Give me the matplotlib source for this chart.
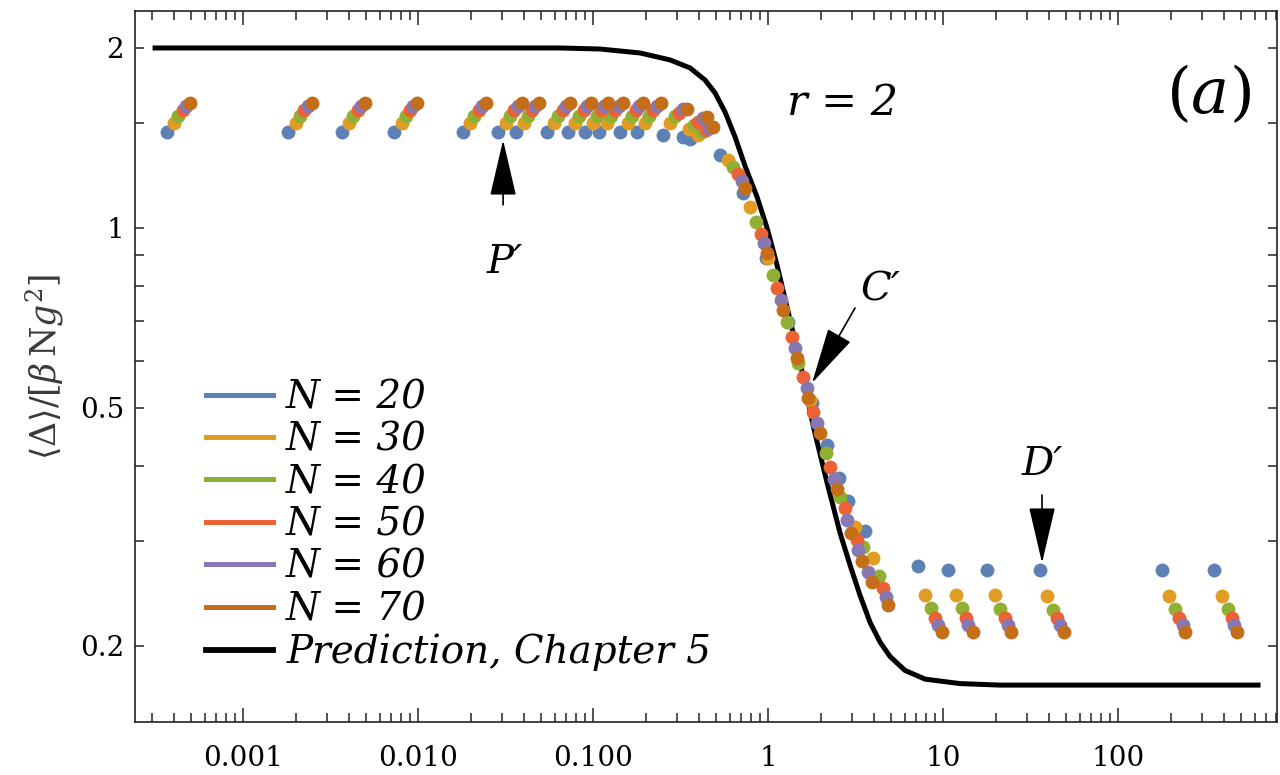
#! /usr/bin/env python3
# -*- coding:utf-8 -*-

"""
Gap promedio <Delta>/[beta N g^2] contra el acoplamiento para r = 2,
varios tamaños N y la predicción del capítulo 5.
"""

import matplotlib.pyplot as plt
from matplotlib.lines import Line2D
from matplotlib.ticker import FixedLocator, FixedFormatter, LogLocator, NullFormatter

plt.rcParams['mathtext.fontset'] = 'dejavuserif'

colores = ['#5e81b5', '#e19c24', '#8fb032', '#eb6235', '#8778b3', '#c56e1a']
etiquetas = ['N = 20', 'N = 30', 'N = 40', 'N = 50', 'N = 60', 'N = 70']

x_n20 = [3.65e-4, 1.807e-3, 3.65e-3, 7.26e-3, 1.794e-2, 2.865e-2, 3.616e-2, 5.416e-2,
         7.139e-2, 8.966e-2, 0.1082, 0.1421, 0.1784, 0.2492, 0.3242, 0.3569,
         0.5297, 0.7140, 0.9702, 1.2963, 1.7771, 2.1566, 2.5449, 2.8653, 3.5690,
         7.141, 10.68, 17.84, 35.69, 177.0, 352.3]
y_n20 = [1.446, 1.446, 1.446, 1.446, 1.446, 1.446, 1.446, 1.446,
         1.446, 1.446, 1.446, 1.446, 1.446, 1.431, 1.421, 1.407,
         1.3245, 1.1444, 0.8909, 0.6965, 0.5097, 0.4337, 0.3815, 0.3499, 0.3114,
         0.2722, 0.2681, 0.2681, 0.2681, 0.2681, 0.2681]

x_n30 = [4.04e-4, 2.00e-3, 4.04e-3, 8.03e-3, 1.984e-2, 3.169e-2, 4.000e-2, 5.990e-2,
         7.896e-2, 9.916e-2, 0.1197, 0.1572, 0.1973, 0.2744, 0.3536, 0.3966,
         0.5906, 0.7858, 1.000, 1.7310, 3.1290, 3.981,
         7.861, 11.82, 19.74, 39.29, 195.6, 389.8]
y_n30 = [1.500, 1.500, 1.500, 1.500, 1.500, 1.500, 1.500, 1.500,
         1.500, 1.500, 1.500, 1.500, 1.500, 1.500, 1.4625, 1.431,
         1.2994, 1.0822, 0.8899, 0.5157, 0.3162, 0.2804,
         0.2433, 0.2433, 0.2433, 0.2424, 0.2424, 0.2424]

x_n40 = [4.26e-4, 2.107e-3, 4.26e-3, 8.47e-3, 2.092e-2, 3.341e-2, 4.216e-2, 6.315e-2,
         8.324e-2, 0.1045, 0.1262, 0.1657, 0.2080, 0.2930, 0.3762, 0.4180,
         0.6310, 0.8507, 1.0680, 1.2843, 1.4839, 2.1369, 2.5685, 3.4900, 4.3087,
         8.472, 12.74, 21.09, 42.19, 210.9, 425.3]
y_n40 = [1.541, 1.541, 1.541, 1.541, 1.541, 1.541, 1.541, 1.541,
         1.541, 1.541, 1.541, 1.541, 1.541, 1.539, 1.487, 1.447,
         1.2648, 1.0234, 0.8347, 0.6965, 0.5946, 0.4205, 0.3550, 0.2929, 0.2619,
         0.2315, 0.2315, 0.2306, 0.2297, 0.2306, 0.2306]

x_n50 = [4.50e-4, 2.230e-3, 4.50e-3, 8.96e-3, 2.214e-2, 3.535e-2, 4.462e-2, 6.683e-2,
         8.810e-2, 0.1106, 0.1335, 0.1754, 0.2201, 0.3100, 0.3981, 0.4406,
         0.6739, 0.9025, 1.1258, 1.3606, 1.5849, 1.8077, 2.2524, 2.7436, 3.2000, 4.5058,
         9.000, 13.48, 22.52, 44.46, 223.2, 444.6]
y_n50 = [1.575, 1.575, 1.575, 1.575, 1.575, 1.575, 1.575, 1.575,
         1.575, 1.575, 1.575, 1.575, 1.575, 1.559, 1.506, 1.459,
         1.2311, 0.9772, 0.7937, 0.6574, 0.5635, 0.4924, 0.3985, 0.3402, 0.3009, 0.2500,
         0.2228, 0.2228, 0.2228, 0.2228, 0.2228, 0.2228]

x_n60 = [4.70e-4, 2.329e-3, 4.70e-3, 9.36e-3, 2.312e-2, 3.693e-2, 4.661e-2, 6.981e-2,
         9.202e-2, 0.1156, 0.1395, 0.1832, 0.2300, 0.3242, 0.4252, 0.4583,
         0.7047, 0.9450, 1.1773, 1.4211, 1.6577, 1.8903, 2.3737, 2.8279, 3.2679, 3.7276, 4.7057,
         9.363, 13.90, 23.33, 46.44, 233.3, 458.4]
y_n60 = [1.600, 1.600, 1.600, 1.600, 1.600, 1.600, 1.600, 1.600,
         1.600, 1.600, 1.600, 1.600, 1.600, 1.579, 1.526, 1.470,
         1.1985, 0.9440, 0.7580, 0.6301, 0.5401, 0.4720, 0.3804, 0.3248, 0.2895, 0.2660, 0.2415,
         0.2169, 0.2169, 0.2169, 0.2169, 0.2169, 0.2169]

x_n70 = [4.96e-4, 2.456e-3, 4.96e-3, 9.87e-3, 2.438e-2, 3.894e-2, 4.914e-2, 7.360e-2,
         9.702e-2, 0.1218, 0.1470, 0.1931, 0.2424, 0.3418, 0.4446, 0.4850,
         0.7358, 0.9830, 1.2180, 1.4645, 1.6927, 1.9824, 2.4596, 2.9566, 3.4178, 3.8974, 4.8503,
         9.792, 14.72, 24.27, 48.95, 240.5, 478.6]
y_n70 = [1.616, 1.616, 1.616, 1.616, 1.616, 1.616, 1.616, 1.616,
         1.616, 1.616, 1.616, 1.616, 1.616, 1.579, 1.535, 1.477,
         1.1665, 0.9084, 0.7294, 0.6062, 0.5197, 0.4542, 0.3661, 0.3090, 0.2775, 0.2559, 0.2342,
         0.2113, 0.2113, 0.2113, 0.2113, 0.2113, 0.2113]

# prediccion analitica (capitulo 5)
pred_x = [3.13e-4, 0.0645, 0.1092, 0.1849, 0.2744, 0.3569, 0.4347, 0.4959, 0.5657,
          0.6453, 0.7358, 0.8618, 0.9831, 1.121, 1.330, 1.518, 1.800, 2.165, 2.569,
          2.930, 3.342, 3.812, 4.347, 4.960, 6.040, 7.861, 12.46, 21.09, 628.5]
pred_y = [2.000, 2.000, 1.992, 1.962, 1.910, 1.852, 1.768, 1.682, 1.563,
          1.420, 1.2696, 1.127, 1.000, 0.867, 0.702, 0.597, 0.468, 0.375, 0.309,
          0.273, 0.243, 0.219, 0.203, 0.192, 0.182, 0.176, 0.173, 0.172, 0.172]

x_ticks = [0.001, 0.01, 0.1, 1, 10, 100]
x_ticklabels = ['0.001', '0.010', '0.100', '1', '10', '100']
y_ticks = [0.2, 0.5, 1, 2]
y_ticklabels = ['0.2', '0.5', '1', '2']
y_minor = [0.3, 0.4, 0.6, 0.7, 0.8, 0.9, 1.5]

series_x = [x_n20, x_n30, x_n40, x_n50, x_n60, x_n70]
series_y = [y_n20, y_n30, y_n40, y_n50, y_n60, y_n70]

fig = plt.figure(figsize=(12.8, 7.75), dpi=100)
ax = fig.add_axes([0.1055, 0.0688, 0.8922, 0.9170])

ax.plot(pred_x, pred_y, color='k', lw=3.6, zorder=2)
for xs, ys, c in zip(series_x, series_y, colores):
    ax.plot(xs, ys, 'o', ms=10, mew=0, color=c, zorder=3)

ax.set_xscale('log')
ax.set_yscale('log')
ax.set_xlim(2.405e-4, 807)
ax.set_ylim(0.1494, 2.306)

ax.xaxis.set_major_locator(FixedLocator(x_ticks))
ax.xaxis.set_major_formatter(FixedFormatter(x_ticklabels))
ax.xaxis.set_minor_locator(LogLocator(base=10, subs=range(2, 10), numticks=20))
ax.xaxis.set_minor_formatter(NullFormatter())
ax.yaxis.set_major_locator(FixedLocator(y_ticks))
ax.yaxis.set_major_formatter(FixedFormatter(y_ticklabels))
ax.yaxis.set_minor_locator(FixedLocator(y_minor))
ax.yaxis.set_minor_formatter(NullFormatter())

ax.tick_params(which='both', direction='in', top=True, right=True, width=1.1, color='#222222')
ax.tick_params(axis='x', which='major', length=10, pad=17, labelsize=20)
ax.tick_params(axis='x', which='minor', length=6.5)
ax.tick_params(axis='y', which='both', length=6.5, pad=8, labelsize=20)
for lab in ax.get_xticklabels() + ax.get_yticklabels():
    lab.set_fontfamily('DejaVu Serif')
for sp in ax.spines.values():
    sp.set_linewidth(1.2)
    sp.set_color('#222222')

ax.set_ylabel(r'$\langle\Delta\rangle/[\beta\,\mathrm{N}g^2]$', fontsize=25, color='#3a3a3a', labelpad=10)

# flechas P', C', D'
flecha = dict(arrowstyle='-|>,head_length=1.8,head_width=0.42', color='k', lw=1.2, mutation_scale=20,
              shrinkA=0, shrinkB=0)
ax.annotate('', xy=(0.0305, 1.403), xytext=(0.0305, 1.093), arrowprops=flecha)
ax.text(0.0313, 0.877, 'P′', fontsize=29, style='italic', family='DejaVu Serif', ha='center', va='center')
ax.annotate('', xy=(1.777, 0.5506), xytext=(3.129, 0.7349), arrowprops=flecha)
ax.text(4.347, 0.7876, 'C′', fontsize=29, style='italic', family='DejaVu Serif', ha='center', va='center')
ax.annotate('', xy=(36.64, 0.2753), xytext=(36.64, 0.3577), arrowprops=flecha)
ax.text(36.64, 0.4016, 'D′', fontsize=29, style='italic', family='DejaVu Serif', ha='center', va='center')

ax.text(2.672, 1.618, 'r = 2', fontsize=31, style='italic', family='DejaVu Serif', ha='center', va='center')
ax.text(325.6, 1.669, r'$(a)$', fontsize=46, ha='center', va='center')

manejadores = [Line2D([], [], color=c, lw=3.6) for c in colores]
manejadores.append(Line2D([], [], color='k', lw=4.2))
ax.legend(manejadores, etiquetas + ['Prediction, Chapter 5'], loc='upper left',
          bbox_to_anchor=(0.0625, 0.482), frameon=False, handlelength=1.72, handletextpad=0.33,
          labelspacing=0.14, borderpad=0, borderaxespad=0,
          prop={'family': 'DejaVu Serif', 'style': 'italic', 'size': 28})

fig.savefig('out.png', dpi=100)
